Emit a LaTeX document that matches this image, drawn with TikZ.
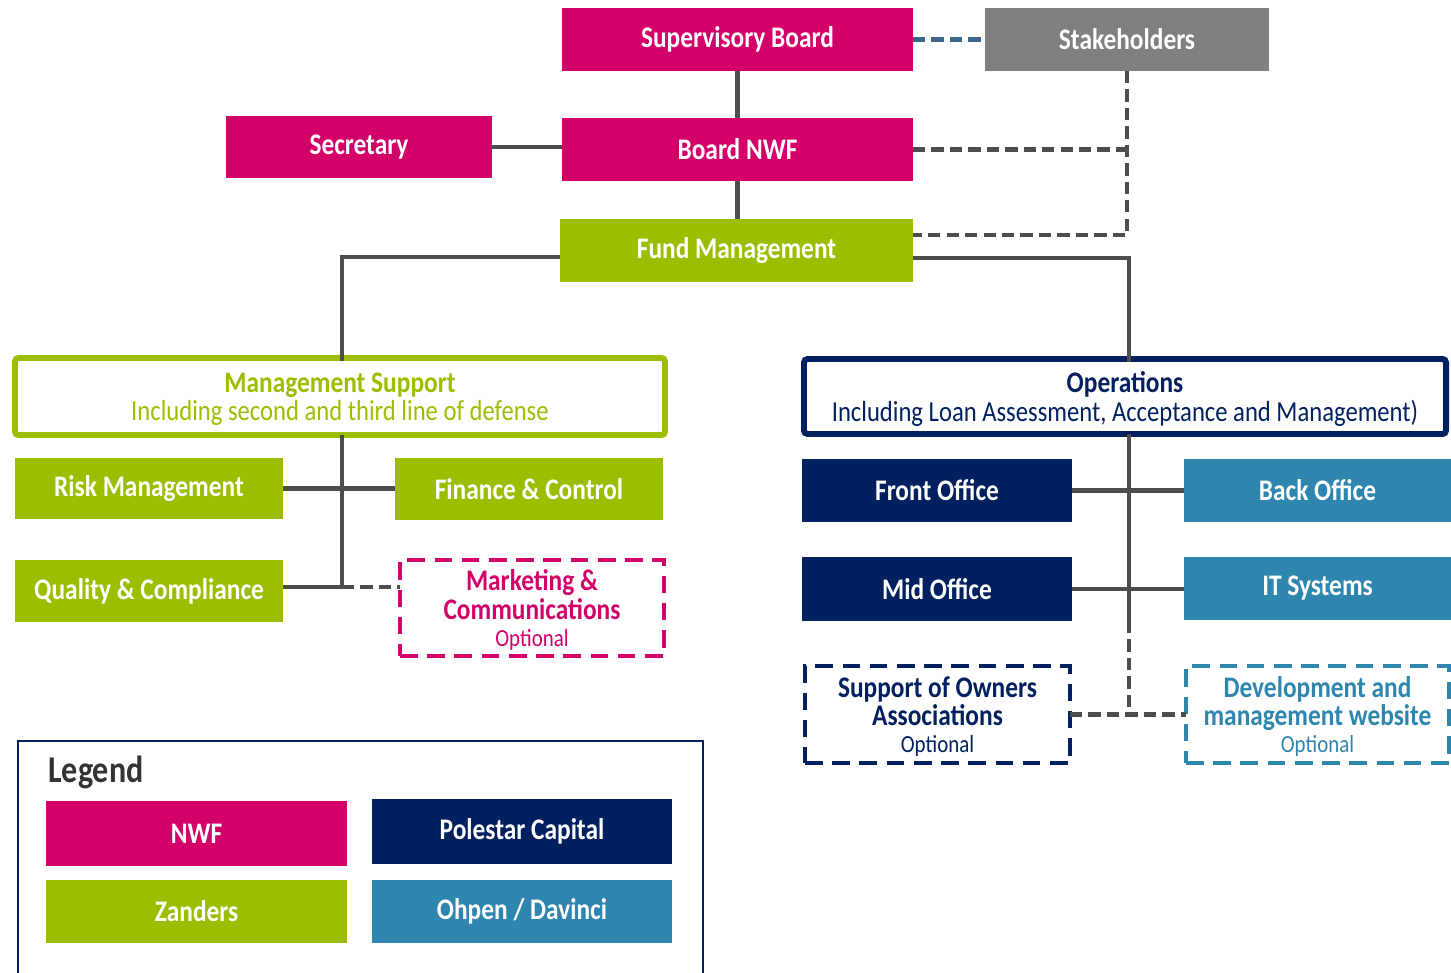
\documentclass[tikz,border=0pt]{standalone}
\usepackage{fontspec}
\setmainfont{Carlito}[FakeStretch=0.85]
\definecolor{nwf}{HTML}{D4006A}
\definecolor{zan}{HTML}{9BBF00}
\definecolor{pol}{HTML}{00205F}
\definecolor{ohp}{HTML}{2E86AE}
\definecolor{stk}{HTML}{808080}
\definecolor{lnc}{HTML}{4D4D4D}
\definecolor{sbl}{HTML}{3D6587}
\definecolor{legc}{HTML}{333333}
\tikzset{
  base/.style={rectangle, inner sep=0pt, outer sep=0pt, align=center},
  solidbox/.style={base, text=white, font=\bfseries\fontsize{17}{20}\selectfont},
  dbox/.style={base, draw=#1, line width=2.8pt, dash pattern=on 10pt off 5.5pt, text depth=0pt, font=\fontsize{17}{16.3}\selectfont},
  frame/.style={base, draw=#1, line width=3.4pt, rounded corners=2pt, text depth=0pt, font=\fontsize{17}{16}\selectfont},
  conn/.style={draw=lnc, line width=2.8pt},
  dconn/.style={draw=lnc, line width=2.8pt, dash pattern=on 7pt off 3.5pt},
}
\newcommand\bx[7]{\node[#6, minimum width={(#3-#2)*0.02cm}, minimum height={(#5-#4)*0.02cm}] (#1) at ({(#2+#3)/2},{(#4+#5)/2}) {#7};}
\newcommand\optl{{\fontsize{14}{14}\selectfont Optional}}
\newcommand\subl[1]{{\fontsize{16.5}{16}\selectfont #1}}
\begin{document}
\begin{tikzpicture}[x=0.02cm, y=-0.02cm]
\useasboundingbox (0,0) rectangle (1451,973);
% top
\bx{sb}{562}{913}{8}{71}{solidbox, fill=nwf}{Supervisory Board}
\bx{stk}{985}{1269}{8}{71}{solidbox, fill=stk}{Stakeholders}
\bx{sec}{226}{492}{116}{178}{solidbox, fill=nwf}{Secretary}
\bx{bn}{562}{913}{118}{181}{solidbox, fill=nwf}{Board NWF}
\bx{fm}{560}{913}{219}{282}{solidbox, fill=zan}{Fund Management}
% management support
\bx{ms}{15}{665}{358}{435}{frame=zan, text=zan}{{\bfseries Management Support}\\\subl{Including second and third line of defense}}
\bx{rm}{15}{283}{458}{519}{solidbox, fill=zan}{Risk Management}
\bx{fc}{395}{663}{458}{520}{solidbox, fill=zan}{Finance \& Control}
\bx{qc}{15}{283}{560}{622}{solidbox, fill=zan}{Quality \& Compliance}
\bx{mk}{400}{664}{560}{656}{dbox=nwf, text=nwf}{{\bfseries Marketing \&}\\{\bfseries Communications}\\[-1pt]\optl}
% operations
\bx{ops}{804}{1446}{359}{434}{frame=pol, text=pol}{{\bfseries Operations}\\\subl{Including Loan Assessment, Acceptance and Management)}}
\bx{fo}{802}{1072}{459}{522}{solidbox, fill=pol}{Front Office}
\bx{bo}{1184}{1451}{459}{522}{solidbox, fill=ohp}{Back Office}
\bx{mo}{802}{1072}{557}{621}{solidbox, fill=pol}{Mid Office}
\bx{it}{1184}{1451}{557}{620}{solidbox, fill=ohp}{IT Systems}
\bx{so}{805}{1070}{666}{763}{dbox=pol, text=pol}{{\bfseries Support of Owners}\\{\bfseries Associations}\\[-1pt]\optl}
\bx{dv}{1186}{1449}{666}{763}{dbox=ohp, text=ohp}{{\bfseries Development and}\\{\bfseries management website}\\[-1pt]\optl}
% legend
\bx{leg}{18}{703}{741}{990}{base, draw=pol, line width=1.3pt}{}
\node[anchor=west, inner sep=0pt, text=legc, font=\bfseries\fontsize{21.5}{21.5}\selectfont] (legt) at (48,772) {Legend};
\bx{lnwf}{46}{347}{801}{866}{solidbox, fill=nwf}{NWF}
\bx{lpol}{372}{672}{799}{864}{solidbox, fill=pol}{Polestar Capital}
\bx{lzan}{46}{347}{880}{943}{solidbox, fill=zan}{Zanders}
\bx{lohp}{372}{672}{880}{943}{solidbox, fill=ohp}{Ohpen / Davinci}
% connectors top
\draw[conn] (sb.south) -- (bn.north);
\draw[conn] (bn.south) -- (bn.south |- fm.north);
\draw[conn] (sec.east) -- (sec.east -| bn.west);
\draw[draw=sbl, line width=2.8pt, dash pattern=on 7pt off 3.5pt] (sb.east) -- (stk.west);
\coordinate (fmd) at ([yshift=-0.32cm]fm.north east);
\draw[dconn] (stk.south) -- (stk.south |- fmd) -- (fmd);
\draw[dconn] (bn.east) -- (bn.east -| stk.south);
\coordinate (fml) at ([yshift=-0.76cm]fm.north west);
\coordinate (fmr) at ([yshift=-0.78cm]fm.north east);
\coordinate (msT) at ([xshift=0.04cm]ms.north);
\coordinate (opsT) at ([xshift=0.08cm]ops.north);
\draw[conn] (fml) -- (fml -| msT) -- ([yshift=-1.5pt]msT);
\draw[conn] (fmr) -- (fmr -| opsT) -- ([yshift=-1.5pt]opsT);
% management support connectors
\coordinate (msB) at ([xshift=0.04cm]ms.south);
\coordinate (qcr) at ([yshift=0.08cm]qc.east);
\draw[conn] (msB) -- (msB |- qcr);
\draw[conn] (rm.east) -- (rm.east -| fc.west);
\draw[conn] (qcr) -- (qcr -| msB);
\draw[dconn] (qcr -| msB) -- (qcr -| mk.west);
% operations connectors
\coordinate (opsB) at ([xshift=0.08cm]ops.south);
\draw[conn] (opsB) -- (opsB |- mo.south);
\draw[dconn] (opsB |- mo.south) -- (opsB |- so.east);
\draw[dconn] (so.east) -- (dv.west);
\draw[conn] (fo.east) -- (fo.east -| bo.west);
\draw[conn] (mo.east) -- (mo.east -| it.west);
\end{tikzpicture}
\end{document}
